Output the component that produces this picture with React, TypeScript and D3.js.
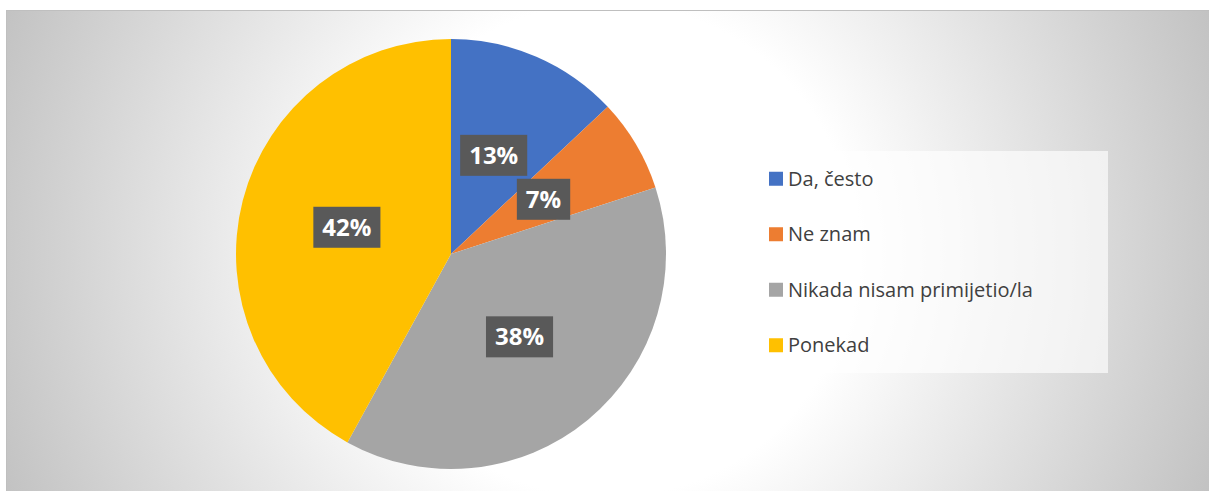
import React, { useEffect, useRef } from 'react';
import * as d3 from 'd3';

const categories = ['Da, često', 'Ne znam', 'Nikada nisam primijetio/la', 'Ponekad'];
const values = [13, 7, 38, 42];
const colors = ['#4472C4', '#ED7D31', '#A5A5A5', '#FFC000'];

const W = 1209;
const H = 491;

export default function App() {
  const svgRef = useRef<SVGSVGElement>(null);

  useEffect(() => {
    if (!svgRef.current) return;
    const svg = d3.select(svgRef.current);
    svg.selectAll('*').remove();

    // background with radial gradient
    const defs = svg.append('defs');
    const grad = defs.append('radialGradient')
      .attr('id', 'bg')
      .attr('gradientUnits', 'userSpaceOnUse')
      .attr('cx', 607)
      .attr('cy', 250)
      .attr('r', 650);
    grad.append('stop').attr('offset', 0).attr('stop-color', '#ffffff');
    grad.append('stop').attr('offset', 0.38).attr('stop-color', '#ffffff');
    grad.append('stop').attr('offset', 1).attr('stop-color', '#c2c2c2');

    svg.append('rect')
      .attr('x', 6.5)
      .attr('y', 10.5)
      .attr('width', W - 6)
      .attr('height', H - 10)
      .attr('fill', 'url(#bg)')
      .attr('stroke', '#bfbfbf')
      .attr('stroke-width', 1);

    // pie
    const cx = 451, cy = 254, R = 215;
    const pie = d3.pie<number>().sort(null).value(d => d);
    const arcs = pie(values);
    const arc = d3.arc<d3.PieArcDatum<number>>().innerRadius(0).outerRadius(R);

    const g = svg.append('g').attr('transform', `translate(${cx},${cy})`);
    g.selectAll('path.slice')
      .data(arcs)
      .enter()
      .append('path')
      .attr('class', 'slice')
      .attr('d', arc)
      .attr('fill', (d, i) => colors[i]);

    // data labels
    const total = d3.sum(values);
    arcs.forEach((d, i) => {
      const [lx, ly] = arc.centroid(d);
      const lg = g.append('g').attr('transform', `translate(${lx},${ly})`);
      const rect = lg.append('rect').attr('fill', '#595959');
      const t = lg.append('text')
        .attr('text-anchor', 'middle')
        .attr('dy', '0.36em')
        .attr('fill', '#ffffff')
        .style('font-family', '"Open Sans", Lato, sans-serif')
        .style('font-weight', 'bold')
        .style('font-size', '24px')
        .text(`${Math.round((values[i] / total) * 100)}%`);
      const tw = (t.node() as SVGTextElement).getComputedTextLength();
      rect.attr('x', -tw / 2 - 9).attr('y', -20.5).attr('width', tw + 18).attr('height', 41);
    });

    // legend
    const lx0 = 706, ly0 = 151, lx1 = 1108, ly1 = 373;
    svg.append('rect')
      .attr('x', lx0)
      .attr('y', ly0)
      .attr('width', lx1 - lx0)
      .attr('height', ly1 - ly0)
      .attr('fill', '#ffffff')
      .attr('fill-opacity', 0.65);

    const yBand = d3.scaleBand<string>().domain(categories).range([ly0, ly1]);
    const items = svg.selectAll('g.legend')
      .data(categories)
      .enter()
      .append('g')
      .attr('class', 'legend')
      .attr('transform', d => `translate(0,${(yBand(d) as number) + yBand.bandwidth() / 2})`);
    items.append('rect')
      .attr('x', 769)
      .attr('y', -7)
      .attr('width', 14)
      .attr('height', 14)
      .attr('fill', (d, i) => colors[i]);
    items.append('text')
      .attr('x', 788)
      .attr('dy', '0.36em')
      .attr('fill', '#404040')
      .style('font-family', '"Open Sans", Lato, sans-serif')
      .style('font-size', '20px')
      .text(d => d);
  }, []);

  return (
    <svg
      ref={svgRef}
      width={W}
      height={H}
      style={{ position: 'absolute', left: 0, top: 0 }}
    />
  );
}
